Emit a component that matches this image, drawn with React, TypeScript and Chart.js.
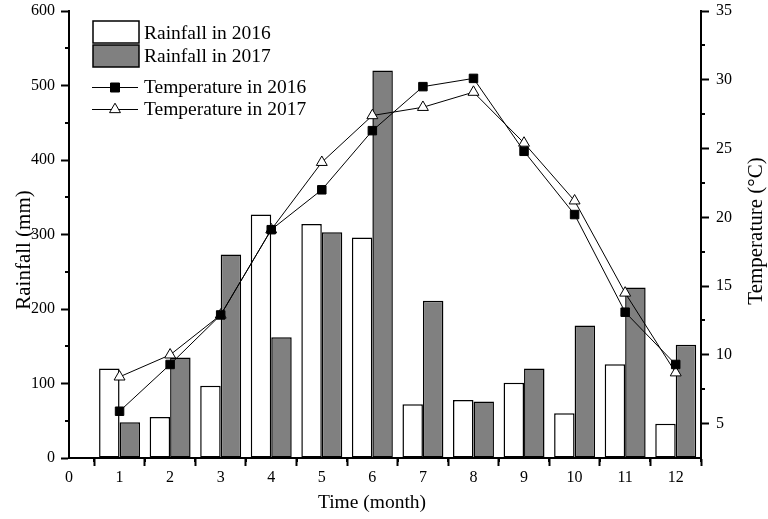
import React, { useEffect, useRef } from 'react';
import { Chart, registerables } from 'chart.js';

Chart.register(...registerables);

// ---- data ----
const MONTHS = [1, 2, 3, 4, 5, 6, 7, 8, 9, 10, 11, 12];
const RAIN_2016 = [120, 55, 97, 327, 314, 296, 72, 78, 101, 60, 126, 46];
const RAIN_2017 = [48, 135, 273, 162, 303, 520, 211, 76, 120, 178, 229, 152];
const TEMP_2016 = [5.9, 9.3, 12.9, 19.1, 22.0, 26.3, 29.5, 30.1, 24.8, 20.2, 13.1, 9.3];
const TEMP_2017 = [8.4, 10.0, 12.9, 19.1, 24.0, 27.4, 28.0, 29.1, 25.4, 21.2, 14.5, 8.7];

const SERIES_NAMES = ['Rainfall in 2016', 'Rainfall in 2017', 'Temperature in 2016', 'Temperature in 2017'];
const X_TITLE = 'Time (month)';
const Y_TITLE = 'Rainfall (mm)';
const Y1_TITLE = 'Temperature (°C)';

const X_TICKS = [0, 1, 2, 3, 4, 5, 6, 7, 8, 9, 10, 11, 12];
const X_MINOR = [0.5, 1.5, 2.5, 3.5, 4.5, 5.5, 6.5, 7.5, 8.5, 9.5, 10.5, 11.5, 12.5];
const RAIN_TICKS = [0, 100, 200, 300, 400, 500, 600];
const RAIN_MINOR = [50, 150, 250, 350, 450, 550];
const TEMP_TICKS = [5, 10, 15, 20, 25, 30, 35];
const TEMP_MINOR = [7.5, 12.5, 17.5, 22.5, 27.5, 32.5];

const FONT = '"Liberation Serif", "Times New Roman", serif';
const GRAY = '#808080';

const decorPlugin = {
  id: 'decor',
  afterDraw(chart: any) {
    const ctx: CanvasRenderingContext2D = chart.ctx;
    const xs = chart.scales.x;
    const ys = chart.scales.y;
    const y1s = chart.scales.y1;
    const area = chart.chartArea;
    ctx.save();
    // minor ticks
    ctx.strokeStyle = '#000';
    ctx.lineWidth = 2;
    ctx.beginPath();
    X_MINOR.forEach((v) => {
      const px = Math.round(xs.getPixelForValue(v));
      ctx.moveTo(px, area.bottom);
      ctx.lineTo(px, area.bottom + 4);
    });
    RAIN_MINOR.forEach((v) => {
      const py = Math.round(ys.getPixelForValue(v));
      ctx.moveTo(area.left - 4, py);
      ctx.lineTo(area.left, py);
    });
    TEMP_MINOR.forEach((v) => {
      const py = Math.round(y1s.getPixelForValue(v));
      ctx.moveTo(area.right, py);
      ctx.lineTo(area.right + 4, py);
    });
    ctx.stroke();

    // axis titles
    ctx.fillStyle = '#000';
    ctx.textAlign = 'center';
    ctx.textBaseline = 'alphabetic';
    ctx.font = `19.5px ${FONT}`;
    ctx.fillText(X_TITLE, 372, 508);
    ctx.font = `21px ${FONT}`;
    ctx.save();
    ctx.translate(30, 250);
    ctx.rotate(-Math.PI / 2);
    ctx.fillText(Y_TITLE, 0, 0);
    ctx.restore();
    ctx.save();
    ctx.translate(762, 231);
    ctx.rotate(-Math.PI / 2);
    ctx.fillText(Y1_TITLE, 0, 0);
    ctx.restore();

    // legend
    const ds = chart.data.datasets;
    ctx.textAlign = 'left';
    ctx.font = `19.5px ${FONT}`;
    const bx = 93;
    const bw = 46;
    const barRows = [
      { d: ds[2], top: 21, base: 38.5, name: SERIES_NAMES[0] },
      { d: ds[3], top: 45, base: 61.5, name: SERIES_NAMES[1] },
    ];
    barRows.forEach((r) => {
      ctx.fillStyle = r.d.backgroundColor;
      ctx.fillRect(bx, r.top, bw, 22);
      ctx.strokeStyle = '#000';
      ctx.lineWidth = 1.5;
      ctx.strokeRect(bx, r.top, bw, 22);
      ctx.fillStyle = '#000';
      ctx.fillText(r.name, 144, r.base);
    });
    const lineRows = [
      { d: ds[0], cy: 87.5, base: 93.3, name: SERIES_NAMES[2] },
      { d: ds[1], cy: 109.5, base: 115, name: SERIES_NAMES[3] },
    ];
    lineRows.forEach((r) => {
      ctx.strokeStyle = '#000';
      ctx.lineWidth = 1;
      ctx.beginPath();
      ctx.moveTo(92, r.cy);
      ctx.lineTo(138, r.cy);
      ctx.stroke();
      const mx = 115;
      ctx.beginPath();
      if (r.d.pointStyle === 'rect') {
        ctx.rect(mx - 4.5, r.cy - 4.5, 9, 9);
      } else {
        const rr = r.d.pointRadius;
        ctx.moveTo(mx, r.cy - rr);
        ctx.lineTo(mx + Math.sin((2 * Math.PI) / 3) * rr, r.cy + rr / 2);
        ctx.lineTo(mx - Math.sin((2 * Math.PI) / 3) * rr, r.cy + rr / 2);
        ctx.closePath();
      }
      ctx.fillStyle = r.d.pointBackgroundColor;
      ctx.fill();
      ctx.stroke();
      ctx.fillStyle = '#000';
      ctx.fillText(r.name, 144, r.base);
    });
    ctx.restore();
  },
};

export default function App() {
  const canvasRef = useRef<HTMLCanvasElement | null>(null);

  useEffect(() => {
    const canvas = canvasRef.current;
    if (!canvas) return;
    const tickFont = { family: FONT, size: 16 };
    const chart = new Chart(canvas, {
      type: 'bar',
      data: {
        datasets: [
          {
            type: 'line',
            label: SERIES_NAMES[2],
            data: MONTHS.map((m, i) => ({ x: m, y: TEMP_2016[i] })),
            yAxisID: 'y1',
            borderColor: '#000',
            borderWidth: 1,
            pointStyle: 'rect',
            pointRadius: 6,
            pointBackgroundColor: '#000',
            pointBorderColor: '#000',
            pointBorderWidth: 1,
            fill: false,
            tension: 0,
            order: 0,
          } as any,
          {
            type: 'line',
            label: SERIES_NAMES[3],
            data: MONTHS.map((m, i) => ({ x: m, y: TEMP_2017[i] })),
            yAxisID: 'y1',
            borderColor: '#000',
            borderWidth: 1,
            pointStyle: 'triangle',
            pointRadius: 6.3,
            pointBackgroundColor: '#fff',
            pointBorderColor: '#000',
            pointBorderWidth: 1,
            fill: false,
            tension: 0,
            order: 0,
          } as any,
          {
            type: 'bar',
            label: SERIES_NAMES[0],
            data: MONTHS.map((m, i) => ({ x: m, y: RAIN_2016[i] })),
            yAxisID: 'y',
            backgroundColor: '#fff',
            borderColor: '#000',
            borderWidth: 1.5,
            borderSkipped: false,
            categoryPercentage: 0.81,
            barPercentage: 1,
            order: 1,
          } as any,
          {
            type: 'bar',
            label: SERIES_NAMES[1],
            data: MONTHS.map((m, i) => ({ x: m, y: RAIN_2017[i] })),
            yAxisID: 'y',
            backgroundColor: GRAY,
            borderColor: '#000',
            borderWidth: 1.5,
            borderSkipped: false,
            categoryPercentage: 0.81,
            barPercentage: 1,
            order: 1,
          } as any,
        ],
      },
      options: {
        responsive: false,
        animation: false,
        devicePixelRatio: 1,
        layout: { padding: { top: 11, left: 0, right: 0, bottom: 0 } },
        plugins: {
          legend: { display: false },
          tooltip: { enabled: false },
        },
        scales: {
          x: {
            type: 'linear',
            min: 0,
            max: 12.5,
            offset: false,
            afterBuildTicks: (s: any) => {
              s.ticks = X_TICKS.map((v) => ({ value: v }));
            },
            afterFit: (s: any) => {
              s.height = 61;
              s.paddingLeft = 0;
              s.paddingRight = 0;
            },
            ticks: { color: '#000', font: tickFont, padding: 2, maxRotation: 0, autoSkip: false, callback: (v: any) => String(v) },
            grid: { drawOnChartArea: false, drawTicks: true, tickLength: 8, tickColor: '#000', tickWidth: 2 },
            border: { display: true, color: '#000', width: 2 },
            title: { display: false },
          },
          y: {
            type: 'linear',
            position: 'left',
            min: 0,
            max: 600,
            afterBuildTicks: (s: any) => {
              s.ticks = RAIN_TICKS.map((v) => ({ value: v }));
            },
            afterFit: (s: any) => {
              s.width = 69;
              s.paddingTop = 0;
              s.paddingBottom = 0;
            },
            ticks: { color: '#000', font: tickFont, padding: 6, autoSkip: false, callback: (v: any) => String(v) },
            grid: { drawOnChartArea: false, drawTicks: true, tickLength: 8, tickColor: '#000', tickWidth: 2 },
            border: { display: true, color: '#000', width: 2 },
            title: { display: false },
          },
          y1: {
            type: 'linear',
            position: 'right',
            min: 2.5,
            max: 35,
            afterBuildTicks: (s: any) => {
              s.ticks = TEMP_TICKS.map((v) => ({ value: v }));
            },
            afterFit: (s: any) => {
              s.width = 67;
              s.paddingTop = 0;
              s.paddingBottom = 0;
            },
            ticks: { color: '#000', font: tickFont, padding: 7, autoSkip: false, callback: (v: any) => String(v) },
            grid: { drawOnChartArea: false, drawTicks: true, tickLength: 8, tickColor: '#000', tickWidth: 2 },
            border: { display: true, color: '#000', width: 2 },
            title: { display: false },
          },
        },
      } as any,
      plugins: [decorPlugin],
    });
    return () => {
      chart.destroy();
    };
  }, []);

  return (
    <div style={{ position: 'fixed', left: 0, top: 0, width: 768, height: 519, background: '#fff' }}>
      <canvas ref={canvasRef} width={768} height={519} style={{ display: 'block', width: 768, height: 519 }} />
    </div>
  );
}
